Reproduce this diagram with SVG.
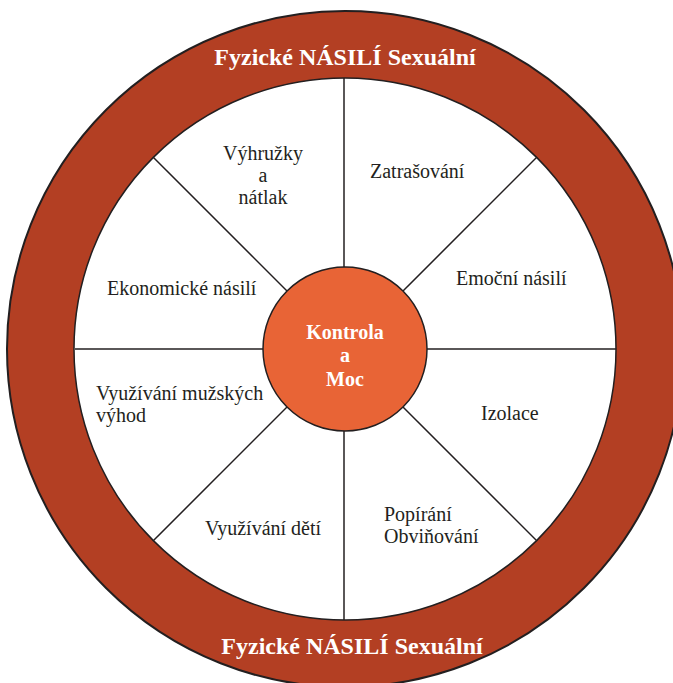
<svg xmlns="http://www.w3.org/2000/svg" width="673" height="683" viewBox="0 0 673 683">
<style>
.lbl{font-family:"Liberation Serif","Times New Roman",serif;font-size:20px;fill:#231f20}
.ttl{font-family:"Liberation Serif","Times New Roman",serif;font-size:24px;font-weight:bold;fill:#ffffff}
.ctr{font-family:"Liberation Serif","Times New Roman",serif;font-size:20px;font-weight:bold;fill:#ffffff}
.ln{stroke:#231f20;stroke-width:1.5;fill:none}
</style>
<rect width="673" height="683" fill="#ffffff"/>
<g id="ring">
<circle cx="345" cy="349" r="338" fill="#b33f23" stroke="#231f20" stroke-width="2"/>
<circle cx="345" cy="349" r="271" fill="#ffffff" stroke="#231f20" stroke-width="1.5"/>
<text class="ttl" x="345" y="65" text-anchor="middle">Fyzické NÁSILÍ Sexuální</text>
<text class="ttl" x="352" y="654" text-anchor="middle">Fyzické NÁSILÍ Sexuální</text>
</g>
<g id="connectors">
<line class="ln" x1="344" y1="78" x2="344" y2="267"/>
<line class="ln" x1="344" y1="431" x2="344" y2="620"/>
<line class="ln" x1="75" y1="349" x2="263" y2="349"/>
<line class="ln" x1="427" y1="349" x2="616" y2="349"/>
<line class="ln" x1="153" y1="157" x2="287" y2="291"/>
<line class="ln" x1="537" y1="157" x2="403" y2="291"/>
<line class="ln" x1="153" y1="541" x2="287" y2="407"/>
<line class="ln" x1="537" y1="541" x2="403" y2="407"/>
</g>
<g id="center">
<circle cx="345" cy="349" r="82" fill="#e86436" stroke="#231f20" stroke-width="1.5"/>
<text class="ctr" x="345" y="339" text-anchor="middle">Kontrola</text>
<text class="ctr" x="345" y="362" text-anchor="middle">a</text>
<text class="ctr" x="345" y="386" text-anchor="middle">Moc</text>
</g>
<g id="vyhruzky">
<text class="lbl" x="263" y="160" text-anchor="middle">Výhružky</text>
<text class="lbl" x="263" y="182" text-anchor="middle">a</text>
<text class="lbl" x="263" y="204" text-anchor="middle">nátlak</text>
</g>
<g id="zastrasovani"><text class="lbl" x="370" y="178">Zatrašování</text></g>
<g id="emocni"><text class="lbl" x="456" y="285">Emoční násilí</text></g>
<g id="ekonomicke"><text class="lbl" x="107" y="295">Ekonomické násilí</text></g>
<g id="izolace"><text class="lbl" x="481" y="420">Izolace</text></g>
<g id="muzske">
<text class="lbl" x="96" y="400">Využívání mužských</text>
<text class="lbl" x="96" y="422">výhod</text>
</g>
<g id="popirani">
<text class="lbl" x="384" y="521">Popírání</text>
<text class="lbl" x="384" y="543">Obviňování</text>
</g>
<g id="deti"><text class="lbl" x="205" y="535">Využívání dětí</text></g>
</svg>
